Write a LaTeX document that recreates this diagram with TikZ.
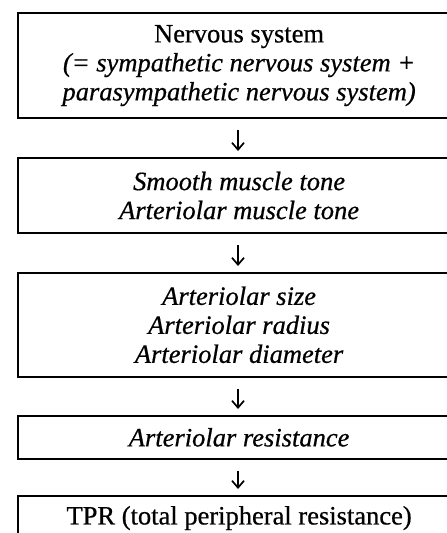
\documentclass[tikz,border=0pt]{standalone}
\usepackage{fontspec}
\setmainfont{Liberation Serif}[FakeBold=0.6]
\usetikzlibrary{arrows.meta}
\begin{document}
\begin{tikzpicture}[x=1pt,y=-1pt,
  box/.style={draw=black, line width=2.2pt, rectangle, anchor=north west,
    minimum width=442pt, inner sep=0pt, align=center,
    font=\fontsize{26.5}{29}\selectfont},
  flow/.style={line width=1.6pt,
    -{Straight Barb[length=7pt,width=12pt,line width=1.7pt]},
    shorten <=11pt, shorten >=6pt}
]
\useasboundingbox (0,0) rectangle (447,533);
\node[box, minimum height=105pt] (b1) at (17,12)
  {Nervous system\\ \textit{(= sympathetic nervous system +}\\ \textit{parasympathetic nervous system)}};
\node[box, minimum height=75pt] (b2) at (17,157)
  {\textit{Smooth muscle tone}\\ \textit{Arteriolar muscle tone}};
\node[box, minimum height=103.5pt] (b3) at (17,272)
  {\textit{Arteriolar size}\\ \textit{Arteriolar radius}\\ \textit{Arteriolar diameter}};
\node[box, minimum height=42.5pt] (b4) at (17,415)
  {\textit{Arteriolar resistance}};
\node[box, minimum height=44pt] (b5) at (17,495)
  {TPR (total peripheral resistance)};
\coordinate (ax) at (238,0);
\draw[flow] (b1.south -| ax) -- (b2.north -| ax);
\draw[flow] (b2.south -| ax) -- (b3.north -| ax);
\draw[flow] (b3.south -| ax) -- (b4.north -| ax);
\draw[flow] (b4.south -| ax) -- (b5.north -| ax);
\end{tikzpicture}
\end{document}
